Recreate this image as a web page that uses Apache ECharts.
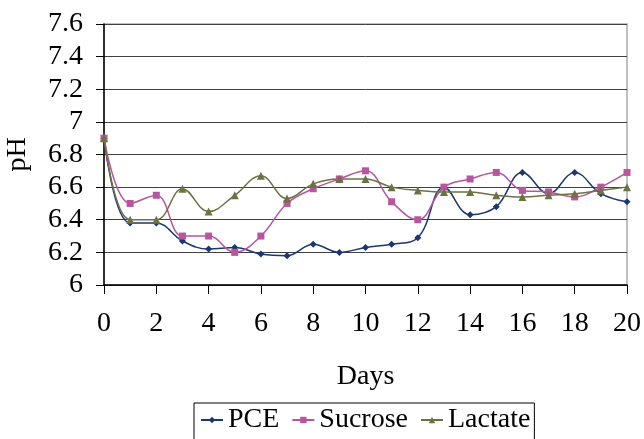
<!DOCTYPE html>
<html>
<head>
<meta charset="utf-8">
<script src="https://cdn.jsdelivr.net/npm/echarts@6/dist/echarts.min.js"></script>
<style>
  html, body { margin: 0; padding: 0; background: #fff; }
  #phChart { width: 644px; height: 439px; }
</style>
</head>
<body>
<div id="phChart"></div>
<script>
// data
const days = [0, 1, 2, 3, 4, 5, 6, 7, 8, 9, 10, 11, 12, 13, 14, 15, 16, 17, 18, 19, 20]
const pce = [6.9, 6.38, 6.38, 6.27, 6.22, 6.23, 6.19, 6.18, 6.25, 6.20, 6.23, 6.25, 6.29, 6.60, 6.43, 6.48, 6.69, 6.56, 6.69, 6.56, 6.51]
const sucrose = [6.9, 6.50, 6.55, 6.30, 6.30, 6.20, 6.30, 6.50, 6.59, 6.65, 6.70, 6.51, 6.40, 6.60, 6.65, 6.69, 6.58, 6.57, 6.54, 6.60, 6.69]
const lactate = [6.9, 6.40, 6.40, 6.59, 6.45, 6.55, 6.67, 6.53, 6.62, 6.65, 6.65, 6.60, 6.58, 6.57, 6.57, 6.55, 6.54, 6.55, 6.56, 6.58, 6.60]
const seriesNames = ['PCE', 'Sucrose', 'Lactate']

const font = 'Liberation Serif, Times New Roman, serif'

const toPairs = (vals) => days.map((d, i) => [d, vals[i]])

const makeSeries = (name, vals, color, symbol, size) => ({
  name: name,
  type: 'line',
  data: toPairs(vals),
  smooth: 0.4,
  symbol: symbol,
  symbolSize: size,
  lineStyle: { color: color, width: 1.5 },
  itemStyle: { color: color }
})

const chart = echarts.init(document.getElementById('phChart'))
chart.setOption({
  animation: false,
  textStyle: { fontFamily: font, color: '#000' },
  grid: {
    left: 104, right: 17, top: 24, bottom: 154,
    outerBoundsMode: 'none',
    show: true, borderColor: '#c0c0c0', borderWidth: 2
  },
  legend: {
    data: seriesNames,
    top: 403,
    left: 194,
    orient: 'horizontal',
    itemWidth: 22,
    itemHeight: 8,
    itemGap: 12,
    padding: [3, 4, 8, 6],
    borderColor: '#000',
    borderWidth: 1,
    textStyle: { fontFamily: font, fontSize: 28, color: '#000' }
  },
  xAxis: {
    type: 'value',
    min: 0, max: 20, interval: 2,
    name: 'Days',
    nameLocation: 'middle',
    nameGap: 78,
    nameTextStyle: { fontFamily: font, fontSize: 28, color: '#000' },
    axisLine: { lineStyle: { color: '#000', width: 1.5 } },
    axisTick: { length: 9, lineStyle: { color: '#000' } },
    axisLabel: { margin: 25, fontSize: 28, color: '#000', fontFamily: font },
    splitLine: { show: false }
  },
  yAxis: {
    type: 'value',
    min: 6, max: 7.6, interval: 0.2,
    name: 'pH',
    nameLocation: 'middle',
    nameRotate: 90,
    nameGap: 72,
    nameTextStyle: { fontFamily: font, fontSize: 28, color: '#000' },
    axisLine: { show: true, lineStyle: { color: '#000', width: 1.5 } },
    axisTick: { show: true, length: 8, lineStyle: { color: '#000' } },
    axisLabel: { margin: 21, fontSize: 28, color: '#000', fontFamily: font },
    splitLine: { lineStyle: { color: '#404040', width: 1 } }
  },
  series: [
    makeSeries(seriesNames[0], pce, '#1c3672', 'diamond', 7),
    makeSeries(seriesNames[1], sucrose, '#b8559f', 'rect', 7),
    makeSeries(seriesNames[2], lactate, '#6b7243', 'triangle', 8)
  ]
})
</script>
</body>
</html>
